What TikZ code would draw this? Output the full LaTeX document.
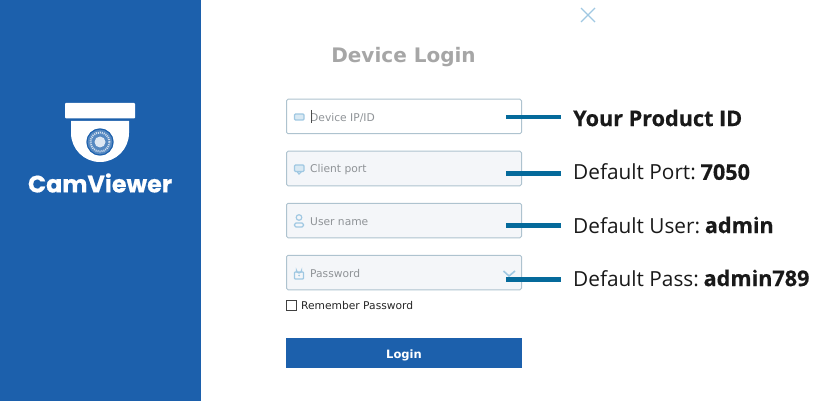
\documentclass[tikz,border=0pt]{standalone}
\usepackage{fontspec}
\setmainfont{DejaVu Sans}
\newfontfamily\labfont{Open Sans}
\newfontfamily\labbold[BoldFont={Open Sans Bold},BoldFeatures={FakeBold=0.4,Scale=1.04}]{Open Sans}
\newfontfamily\logofont[BoldFeatures={FakeBold=0.5}]{Poppins}
\usetikzlibrary{positioning}
\definecolor{sideblue}{HTML}{1C60AC}
\definecolor{leadblue}{HTML}{056A9B}
\definecolor{iconblue}{HTML}{A0C8E2}
\definecolor{boxline}{HTML}{AEC3CF}
\definecolor{boxfill}{HTML}{F4F6F9}
\definecolor{hintgrey}{HTML}{8F9397}
\tikzset{%
field/.style={draw=boxline,fill=boxfill,rounded corners=1.5pt,line width=1pt,
              minimum width=235pt,minimum height=34.5pt,inner sep=0pt},
hint/.style={font=\fontsize{10.7}{13}\selectfont,text=hintgrey,inner sep=0pt,anchor=west},
lab/.style={font=\labbold\fontsize{20.8}{24}\selectfont,text=black!90,inner sep=0pt,anchor=west},
leader/.style={draw=leadblue,line width=4.4pt},
icon/.style={draw=iconblue,line width=1.2pt}
}
\begin{document}
\begin{tikzpicture}[x=1pt,y=-1pt]
\useasboundingbox (0,0) rectangle (822,401);
\fill[sideblue] (0,0) rectangle (201,401);
% camera logo
\fill[white,rounded corners=1pt] (65,103) rectangle (135,118.5);
\fill[white] (71,121) -- (129,121) -- (129,133) arc[start angle=0,end angle=180,radius=29] -- cycle;
\fill[sideblue!75!white] (100,142) circle (13.5pt);
\draw[sideblue,line width=1pt] (100,142) circle (13pt);
\draw[white!80!sideblue,line width=2pt,dash pattern=on 1pt off 1pt] (100,142) circle (9.5pt);
\fill[white!85!sideblue] (100,142) circle (5.5pt);
\node[font=\logofont\bfseries\fontsize{23.8}{28}\selectfont,text=white,inner sep=0pt] (logo) at (100,183) {CamViewer};
% window
\draw[iconblue,line width=1.2pt] (581,8) -- (595,22) (595,8) -- (581,22);
\node[font=\bfseries\fontsize{20}{24}\selectfont,text=black!35!white,inner sep=0pt] (title) at (403.5,57) {Device Login};
\node[field,fill=white] (devid) at (404,116.5) {};
\node[field] (port) at (404,168.5) {};
\node[field] (user) at (404,220.5) {};
\node[field] (pass) at (404,272.5) {};
\foreach \b/\t in {devid/{Device IP/ID},port/Client port,user/User name,pass/Password}
  \node[hint] (\b hint) at ([xshift=24pt,yshift=-1pt]\b.west) {\t};
\draw[black!70,line width=.7pt] (311,110) -- (311,123);
% field icons
\draw[icon,fill=iconblue!40,rounded corners=1pt] (294.5,114) rectangle (304,120);
\draw[icon,fill=iconblue!40,rounded corners=1pt] (294.5,165) rectangle (304,171.5);
\draw[icon] (297,171.5) -- (299,174) -- (301.5,171.5);
\draw[icon] (299,217.5) circle (2.8pt);
\draw[icon,rounded corners=1.5pt] (294.5,227) -- (294.5,223) -- (303.5,223) -- (303.5,227) -- cycle;
\draw[icon,rounded corners=.8pt] (294.5,272) rectangle (303.5,279);
\draw[icon] (296.5,272) -- (296.5,270.5) arc[start angle=180,end angle=0,radius=2.5] -- (301.5,272);
\fill[iconblue] (299,275.5) circle (1pt);
\draw[icon,line width=1.6pt] (503.5,271) -- (509,276) -- (515,271);
% pointers
\foreach \b/\y/\l/\t in {devid/118/117.3/{\bfseries Your Product ID},
                      port/172/173.3/{Default Port: \hspace{-2.5pt}\bfseries 7050},
                      user/225/225.3/{Default User: \hspace{-2.5pt}\bfseries admin},
                      pass/278/279.5/{Default Pass: \hspace{-2.5pt}\bfseries admin789}}
{
  \node[lab] (\b lab) at (573,\y) {\t};
  \coordinate (\b start) at (506,\l);
  \coordinate (\b end) at (561,\l);
  \draw[leader] (\b start) -- (\b end);
}
% bottom
\node[draw=black!75,line width=.8pt,minimum size=10pt,inner sep=0pt] (check) at (291.5,305.5) {};
\node[hint,text=black!85,right=4pt of check] (remember) {Remember Password};
\node[fill=sideblue,text=white,font=\bfseries\fontsize{11.5}{14}\selectfont,minimum width=236pt,minimum height=30pt,inner sep=0pt,text height=10pt,text depth=0pt] (login) at (404,353) {Login};
\end{tikzpicture}
\end{document}
